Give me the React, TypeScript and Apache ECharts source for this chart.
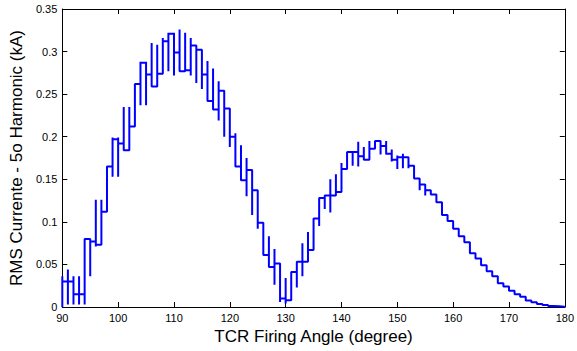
import React, { useEffect, useRef } from "react";
import * as echarts from "echarts";

const angles = [
  90, 91, 92, 93, 94, 95, 96, 97, 98, 99,
  100, 101, 102, 103, 104, 105, 106, 107, 108, 109,
  110, 111, 112, 113, 114, 115, 116, 117, 118, 119,
  120, 121, 122, 123, 124, 125, 126, 127, 128, 129,
  130, 131, 132, 133, 134, 135, 136, 137, 138, 139,
  140, 141, 142, 143, 144, 145, 146, 147, 148, 149,
  150, 151, 152, 153, 154, 155, 156, 157, 158, 159,
  160, 161, 162, 163, 164, 165, 166, 167, 168, 169,
  170, 171, 172, 173, 174, 175, 176, 177, 178, 179,
];

const levels = [
  0.030, 0.030, 0.015, 0.015, 0.080, 0.077, 0.073, 0.112, 0.165, 0.197,
  0.192, 0.184, 0.212, 0.262, 0.287, 0.273, 0.259, 0.274, 0.312, 0.321,
  0.299, 0.277, 0.278, 0.307, 0.302, 0.273, 0.242, 0.232, 0.254, 0.233,
  0.200, 0.165, 0.149, 0.161, 0.137, 0.099, 0.061, 0.047, 0.051, 0.010,
  0.008, 0.041, 0.053, 0.053, 0.067, 0.104, 0.128, 0.131, 0.131, 0.135,
  0.162, 0.182, 0.182, 0.177, 0.173, 0.186, 0.195, 0.189, 0.180, 0.173,
  0.176, 0.176, 0.166, 0.151, 0.144, 0.137, 0.132, 0.123, 0.108, 0.101,
  0.092, 0.083, 0.076, 0.063, 0.057, 0.049, 0.042, 0.036, 0.028, 0.024,
  0.019, 0.015, 0.012, 0.0075, 0.0055, 0.0035, 0.0023, 0.0012, 0.0008, 0.0004,
];

const spikeLo: (number | null)[] = [
  0.000, 0.003, 0.003, 0.003, 0.003, 0.036, 0.071, 0.073, null, 0.153,
  0.153, 0.184, 0.184, null, 0.237, 0.237, 0.259, 0.259, 0.274, 0.277,
  0.272, 0.277, 0.277, 0.272, 0.263, 0.256, 0.243, 0.232, 0.219, 0.200,
  0.188, 0.165, 0.149, 0.130, 0.108, 0.092, 0.061, 0.047, 0.026, 0.006,
  0.004, 0.008, 0.023, 0.036, 0.053, 0.067, 0.095, 0.115, 0.111, 0.135,
  0.151, 0.162, 0.166, 0.165, 0.173, 0.173, 0.186, 0.179, 0.179, 0.171,
  0.162, 0.163, 0.163, null, 0.137, 0.131, null, null, null, null,
  null, null, null, null, null, null, null, null, null, null,
  null, null, null, null, null, null, null, null, null, null,
];

const spikeHi: (number | null)[] = [
  0.036, 0.044, 0.036, 0.036, 0.080, 0.080, 0.126, 0.126, null, 0.199,
  0.199, 0.235, 0.235, null, 0.288, 0.288, 0.310, 0.308, 0.316, 0.322,
  0.322, 0.326, 0.322, 0.316, 0.303, 0.302, 0.289, 0.280, 0.265, 0.254,
  0.233, 0.204, 0.190, 0.175, 0.161, 0.137, 0.099, 0.083, 0.068, 0.051,
  0.034, 0.041, 0.053, 0.075, 0.088, 0.104, 0.128, 0.131, 0.150, 0.156,
  0.169, 0.182, 0.182, 0.194, 0.188, 0.195, 0.195, 0.195, 0.195, 0.185,
  0.178, 0.180, 0.176, null, 0.151, 0.144, null, null, null, null,
  null, null, null, null, null, null, null, null, null, null,
  null, null, null, null, null, null, null, null, null, null,
];

const xEnd = 180;
const xTickStep = 10;
const yMax = 0.35;
const yTickStep = 0.05;

const FONT = "'Liberation Sans', Arial, Helvetica, sans-serif";

function buildPath(): [number, number][] {
  const pts: [number, number][] = [];
  for (let i = 0; i < angles.length; i++) {
    const x = angles[i];
    const prev = i > 0 ? levels[i - 1] : (spikeLo[0] as number);
    pts.push([x, prev]);
    if (spikeLo[i] !== null && spikeHi[i] !== null) {
      pts.push([x, spikeLo[i] as number]);
      pts.push([x, spikeHi[i] as number]);
    }
    pts.push([x, levels[i]]);
  }
  pts.push([xEnd, levels[levels.length - 1]]);
  return pts;
}

export default function App() {
  const ref = useRef<HTMLDivElement>(null);
  useEffect(() => {
    if (!ref.current) return;
    const chart = echarts.init(ref.current, undefined, { renderer: "svg" });
    const axisLine = { show: true, onZero: false, lineStyle: { color: "#000", width: 1 } };
    const tick = { show: true, inside: true, length: 5, lineStyle: { color: "#000", width: 1 } };
    chart.setOption({
      animation: false,
      backgroundColor: "#fff",
      grid: { left: 59, right: 10, top: 9, bottom: 44, containLabel: false },
      xAxis: [
        {
          type: "value",
          position: "bottom",
          min: angles[0],
          max: xEnd,
          interval: xTickStep,
          axisLine,
          axisTick: tick,
          splitLine: { show: false },
          axisLabel: { fontSize: 11, color: "#000", margin: 5, fontFamily: FONT },
          name: "TCR Firing Angle (degree)",
          nameLocation: "middle",
          nameGap: 18,
          nameTextStyle: { fontSize: 17, color: "#000", fontFamily: FONT },
        },
        {
          type: "value",
          position: "top",
          min: angles[0],
          max: xEnd,
          interval: xTickStep,
          axisLine,
          axisTick: tick,
          splitLine: { show: false },
          axisLabel: { show: false },
        },
      ],
      yAxis: [
        {
          type: "value",
          position: "left",
          min: 0,
          max: yMax,
          interval: yTickStep,
          axisLine,
          axisTick: tick,
          splitLine: { show: false },
          axisLabel: { fontSize: 11, color: "#000", margin: 5, fontFamily: FONT },
          name: "RMS Currente - 5o Harmonic (kA)",
          nameLocation: "middle",
          nameGap: 31,
          nameTextStyle: { fontSize: 17, color: "#000", fontFamily: FONT },
        },
        {
          type: "value",
          position: "right",
          min: 0,
          max: yMax,
          interval: yTickStep,
          axisLine,
          axisTick: tick,
          splitLine: { show: false },
          axisLabel: { show: false },
        },
      ],
      series: [
        {
          type: "line",
          xAxisIndex: 0,
          yAxisIndex: 0,
          data: buildPath(),
          showSymbol: false,
          symbol: "none",
          lineStyle: { color: "#0000ff", width: 2 },
          clip: true,
        },
      ],
    });
    return () => chart.dispose();
  }, []);
  return (
    <div
      ref={ref}
      style={{ position: "absolute", left: 0, top: 0, width: 577, height: 351 }}
    />
  );
}
